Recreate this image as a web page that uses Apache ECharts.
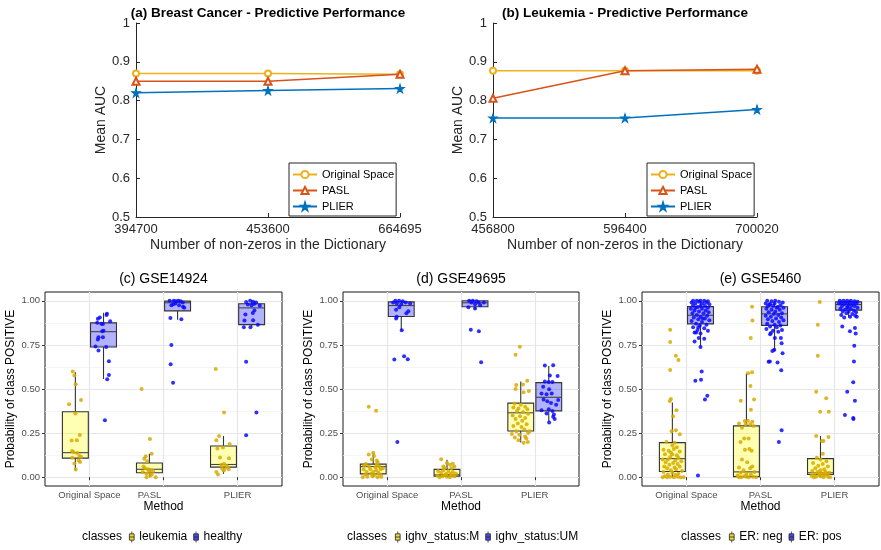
<!DOCTYPE html>
<html><head><meta charset="utf-8">
<script src="https://cdn.jsdelivr.net/npm/echarts@6/dist/echarts.min.js"></script>
<style>html,body{margin:0;padding:0;background:#fff}#c{width:881px;height:550px}</style>
</head><body><div id="c"></div>
<script>
// ---------- Data: top panels (Mean AUC) ----------
const dictA = ['394700', '453600', '664695'];
const aucA_original = [0.870, 0.870, 0.868];
const aucA_pasl = [0.850, 0.850, 0.868];
const aucA_plier = [0.820, 0.826, 0.831];
const dictB = ['456800', '596400', '700020'];
const aucB_original = [0.877, 0.877, 0.877];
const aucB_pasl = [0.806, 0.877, 0.881];
const aucB_plier = [0.755, 0.755, 0.777];

// ---------- Data: bottom panels (probability of class POSITIVE) ----------
const methods = ['Original Space', 'PASL', 'PLIER'];
const probTicks = [0, 0.25, 0.5, 0.75, 1];
const probMinorTicks = [0.125, 0.375, 0.625, 0.875];
// box stats per method: [lower whisker, Q1, median, Q3, upper whisker]
const boxC_leukemia = [[0.042,0.108,0.139,0.371,0.595],[0.0,0.025,0.045,0.080,0.133],[0.019,0.057,0.072,0.177,0.234]];
const boxC_healthy  = [[0.557,0.738,0.825,0.875,0.932],[0.893,0.943,0.989,0.998,1.0],[0.850,0.865,0.960,0.983,1.0]];
const boxD_M  = [[0.0,0.019,0.060,0.074,0.136],[0.0,0.006,0.014,0.044,0.099],[0.196,0.262,0.365,0.420,0.542]];
const boxD_UM = [[0.833,0.911,0.973,0.994,1.0],[0.950,0.966,0.989,1.0,1.0],[0.314,0.376,0.453,0.536,0.631]];
const boxE_neg = [[0.0,0.032,0.105,0.196,0.424],[0.0,0.003,0.030,0.291,0.589],[0.0,0.015,0.025,0.105,0.234]];
const boxE_pos = [[0.741,0.869,0.918,0.967,1.0],[0.713,0.861,0.926,0.966,1.0],[0.905,0.947,0.979,0.994,1.0]];

// jittered samples: [jitter offset, probability]
const jitC_leukemia_original = [[-0.035,0.599],[-0.013,0.576],[0.005,0.527],[-0.085,0.413],[0.077,0.437],[0,0.361],[-0.05,0.208],[0.02,0.209],[0.06,0.239],[-0.045,0.148],[-0.027,0.143],[0.023,0.137],[0.054,0.12],[0.077,0.116],[0.063,0.086],[-0.013,0.077],[0.005,0.044],[-0.04,0.11],[0.045,0.095]];
const jitC_leukemia_pasl = [[-0.105,0.5],[0.007,0.217],[0.03,0.133],[-0.05,0.118],[-0.07,0.105],[-0.03,0.09],[-0.08,0.061],[-0.06,0.05],[-0.02,0.045],[0.01,0.04],[0.05,0.035],[-0.007,0.029],[0.016,0.01],[-0.04,0.02],[-0.04,0.0],[0.085,0.0],[0.03,0.015],[-0.09,0.03]];
const jitC_leukemia_plier = [[-0.105,0.614],[0.007,0.367],[-0.06,0.234],[-0.096,0.209],[0.084,0.188],[-0.007,0.168],[-0.082,0.162],[-0.047,0.111],[0.074,0.108],[0.007,0.076],[-0.03,0.07],[0.053,0.057],[0.04,0.065],[-0.02,0.05],[0.01,0.042],[-0.096,0.029],[-0.074,0.015],[0.0,0.038],[0.07,0.045]];
const jitC_healthy_original = [[-0.076,0.899],[-0.05,0.905],[-0.008,0.869],[0.046,0.926],[0.04,0.92],[0.09,0.884],[-0.085,0.875],[-0.018,0.827],[0,0.83],[-0.068,0.793],[-0.076,0.781],[-0.008,0.793],[-0.108,0.741],[0.036,0.738],[-0.068,0.718],[0.073,0.658],[0.073,0.58],[0.05,0.555],[0.019,0.323],[-0.03,0.87]];
const jitC_healthy_pasl = [[-0.107,1.0],[-0.05,1.0],[-0.02,0.998],[0.01,1.0],[0.04,0.997],[0.07,0.99],[-0.084,0.975],[-0.03,0.985],[0.02,0.975],[0.074,0.966],[-0.06,0.98],[0.09,0.96],[-0.097,0.903],[0.051,0.895],[-0.084,0.749],[-0.093,0.641],[-0.061,0.536]];
const jitC_healthy_plier = [[-0.074,0.994],[-0.02,1.0],[0.02,0.995],[0.06,0.99],[-0.051,0.979],[0.038,0.983],[0.11,0.973],[0.0,0.975],[0.038,0.945],[0.016,0.931],[-0.084,0.922],[-0.097,0.888],[0.02,0.89],[0.084,0.865],[-0.105,0.85],[-0.016,0.85],[-0.074,0.654],[0.065,0.367],[-0.074,0.238]];

const jitD_M_original = [[-0.061,0.399],[0.039,0.376],[0.0,0.139],[-0.061,0.128],[0.01,0.12],[0.047,0.095],[-0.02,0.1],[0.06,0.085],[-0.12,0.067],[-0.06,0.06],[0.03,0.057],[0.08,0.06],[0.129,0.051],[-0.13,0.045],[-0.04,0.045],[0.04,0.04],[0.1,0.045],[-0.09,0.03],[0.0,0.03],[0.07,0.025],[-0.142,0.0],[-0.08,0.002],[-0.01,0.005],[0.06,0.0],[0.11,0.002],[-0.11,0.015],[0.02,0.012],[0.09,0.015],[-0.03,0.02],[0.05,0.07],[-0.1,0.075]];
const jitD_M_pasl = [[-0.079,0.101],[0.079,0.076],[0.0,0.08],[0.04,0.07],[-0.05,0.06],[0.1,0.06],[-0.03,0.05],[0.06,0.05],[-0.12,0.035],[0.02,0.035],[0.08,0.03],[-0.08,0.025],[-0.01,0.02],[0.05,0.02],[-0.13,0.01],[-0.06,0.005],[0.0,0.002],[0.04,0.0],[0.1,0.005],[-0.1,0.0],[0.12,0.02],[-0.03,0.012],[0.07,0.01],[-0.05,0.04]];
const jitD_M_plier = [[-0.012,0.739],[-0.07,0.694],[-0.061,0.523],[0.03,0.525],[0.088,0.547],[0.038,0.481],[0.11,0.489],[-0.07,0.5],[-0.084,0.418],[0.0,0.41],[0.06,0.4],[-0.1,0.395],[-0.03,0.39],[0.09,0.385],[-0.05,0.375],[0.03,0.37],[0.1,0.36],[-0.11,0.35],[-0.01,0.345],[0.06,0.335],[-0.07,0.33],[0.02,0.32],[-0.04,0.305],[0.08,0.3],[-0.1,0.29],[0.01,0.285],[0.05,0.27],[-0.06,0.26],[0.1,0.25],[-0.12,0.245],[-0.02,0.24],[0.06,0.23],[-0.08,0.225],[0.075,0.219],[0.096,0.2],[-0.03,0.21],[0.04,0.195],[0.12,0.26]];
const jitD_UM_original = [[-0.08,1.0],[-0.03,1.0],[0.02,0.998],[-0.11,0.99],[-0.06,0.985],[0.0,0.98],[0.06,0.99],[0.12,0.985],[-0.026,0.964],[-0.07,0.95],[0.096,0.941],[0.07,0.93],[-0.061,0.909],[-0.07,0.9],[0.007,0.833],[-0.094,0.667],[0.038,0.686],[0.088,0.669],[-0.053,0.2]];
const jitD_UM_pasl = [[-0.08,1.0],[-0.03,1.0],[0.02,0.998],[-0.05,0.99],[0.05,0.99],[0.12,0.99],[0.0,0.98],[-0.09,0.964],[0.0,0.956],[0.07,0.975],[-0.057,0.836],[0.052,0.827],[0.083,0.652]];
const jitD_UM_plier = [[-0.053,0.633],[0.06,0.635],[0.015,0.576],[0.12,0.574],[-0.053,0.542],[0.0,0.54],[0.05,0.54],[-0.076,0.513],[0.005,0.498],[-0.098,0.475],[-0.03,0.47],[0.04,0.475],[0.128,0.437],[-0.07,0.44],[-0.02,0.43],[0.03,0.42],[0.1,0.41],[-0.098,0.38],[0.0,0.385],[0.05,0.375],[-0.03,0.361],[0.07,0.355],[0.06,0.342],[0.08,0.33],[0.005,0.31]];

const jitE_neg_original = [[-0.03,0.836],[-0.03,0.766],[0.047,0.688],[0.082,0.664],[-0.03,0.608],[-0.02,0.443],[-0.035,0.432],[0.055,0.38],[0.01,0.346],[0.047,0.266],[-0.01,0.26],[0.1,0.243],[-0.08,0.2],[0.03,0.195],[-0.12,0.155],[-0.05,0.15],[0.02,0.16],[0.1,0.145],[-0.1,0.13],[0.0,0.13],[0.06,0.125],[-0.03,0.115],[0.08,0.11],[-0.13,0.1],[-0.06,0.1],[0.04,0.095],[0.12,0.09],[-0.09,0.085],[0.01,0.08],[0.07,0.075],[-0.04,0.07],[-0.11,0.06],[0.1,0.06],[0.03,0.055],[-0.07,0.05],[0.05,0.045],[-0.02,0.04],[0.13,0.035],[-0.12,0.03],[0.0,0.025],[0.08,0.02],[-0.06,0.015],[0.04,0.012],[-0.1,0.005],[-0.03,0.003],[0.02,0.0],[0.07,0.002],[0.11,0.0],[-0.13,0.0],[-0.07,0.0],[0.15,0.0],[0.0,0.18],[0.06,0.17],[-0.02,0.14]];
const jitE_neg_pasl = [[0.076,0.966],[0.081,0.888],[0.058,0.789],[0.076,0.595],[0.022,0.589],[0.054,0.517],[-0.077,0.433],[0.103,0.441],[0.06,0.382],[-0.023,0.319],[0.02,0.32],[0.08,0.315],[-0.1,0.305],[-0.01,0.3],[0.05,0.3],[0.1,0.29],[-0.06,0.28],[-0.03,0.219],[0.03,0.22],[-0.08,0.2],[0.04,0.16],[-0.02,0.156],[0.07,0.15],[-0.06,0.1],[0.01,0.085],[0.08,0.06],[-0.1,0.055],[0.05,0.05],[-0.04,0.04],[0.11,0.03],[-0.08,0.025],[0.0,0.02],[0.06,0.015],[-0.12,0.01],[-0.03,0.005],[0.03,0.0],[0.09,0.002],[-0.07,0.0],[0.13,0.0],[-0.1,0.0],[0.0,0.003]];
const jitE_neg_plier = [[-0.01,0.994],[-0.036,0.865],[-0.036,0.688],[-0.058,0.485],[0.077,0.447],[-0.004,0.371],[0.112,0.371],[-0.058,0.234],[0.108,0.228],[0.018,0.205],[0.04,0.205],[0.031,0.133],[-0.05,0.11],[0.0,0.1],[0.08,0.09],[-0.1,0.08],[0.03,0.075],[-0.03,0.065],[0.1,0.06],[-0.07,0.05],[0.05,0.045],[0.0,0.04],[-0.11,0.035],[0.07,0.03],[-0.04,0.03],[0.12,0.025],[0.02,0.02],[-0.08,0.018],[0.09,0.015],[-0.02,0.012],[0.05,0.01],[-0.12,0.008],[0.0,0.005],[0.1,0.003],[-0.06,0.002],[0.04,0.0],[-0.09,0.0],[0.13,0.0],[0.06,0.025],[-0.01,0.022]];
const jitE_pos_original = [[0.0,0.738],[0.05,0.785],[-0.024,0.789],[-0.06,0.821],[-0.08,0.77],[0.016,0.599],[0.007,0.553],[-0.07,0.547],[0.092,0.462],[0.06,0.441],[-0.034,0.01],[-0.1,1.0],[-0.05,1.0],[0.0,1.0],[0.05,1.0],[0.1,0.998],[-0.12,0.99],[-0.02,0.995],[0.08,0.99],[-0.07,0.985],[0.03,0.985],[0.12,0.98],[-0.1,0.975],[0.0,0.97],[0.06,0.97],[-0.04,0.965],[0.1,0.96],[-0.13,0.955],[0.02,0.955],[-0.08,0.945],[0.07,0.945],[-0.02,0.94],[0.11,0.935],[-0.11,0.93],[0.04,0.93],[-0.05,0.92],[0.09,0.915],[0.0,0.91],[-0.09,0.905],[0.06,0.9],[-0.03,0.895],[0.12,0.89],[-0.12,0.885],[0.02,0.88],[-0.06,0.87],[0.08,0.865],[-0.01,0.86],[-0.1,0.85],[0.05,0.845],[-0.04,0.835],[0.1,0.83],[-0.08,0.82],[0.0,0.815],[-0.03,0.85],[0.03,0.9],[-0.07,0.96]];
const jitE_pos_pasl = [[-0.05,0.818],[-0.06,0.81],[0.004,0.789],[0.085,0.789],[0.095,0.76],[-0.005,0.722],[-0.03,0.715],[0.108,0.703],[-0.064,0.656],[-0.08,0.655],[0.04,0.65],[0.09,0.607],[0.095,0.266],[0.058,0.2],[-0.1,1.0],[-0.04,0.998],[0.01,1.0],[0.06,0.995],[0.11,0.99],[-0.12,0.985],[-0.06,0.98],[0.0,0.985],[0.08,0.975],[-0.09,0.97],[-0.02,0.97],[0.04,0.965],[0.12,0.96],[-0.11,0.955],[-0.04,0.95],[0.07,0.95],[0.01,0.94],[-0.08,0.935],[0.1,0.93],[-0.01,0.925],[0.05,0.92],[-0.12,0.915],[-0.05,0.91],[0.09,0.905],[0.02,0.9],[-0.09,0.895],[0.12,0.89],[-0.03,0.885],[0.06,0.88],[-0.1,0.87],[0.0,0.865],[0.08,0.86],[-0.06,0.855],[0.03,0.85],[-0.11,0.84],[0.1,0.835],[-0.02,0.83],[0.05,0.825],[-0.07,0.98],[0.03,0.96]];
const jitE_pos_plier = [[-0.086,0.855],[0.018,0.827],[0.085,0.846],[0.095,0.814],[0.076,0.745],[0.072,0.656],[0.062,0.538],[-0.019,0.485],[0.085,0.433],[-0.05,0.352],[0.062,0.336],[0.065,0.33],[-0.12,1.0],[-0.07,1.0],[-0.02,1.0],[0.03,1.0],[0.08,0.998],[0.12,0.995],[-0.1,0.99],[-0.04,0.99],[0.01,0.992],[0.06,0.988],[-0.13,0.985],[0.1,0.985],[-0.06,0.98],[0.0,0.978],[0.04,0.975],[-0.09,0.97],[0.08,0.97],[-0.02,0.965],[0.12,0.96],[-0.11,0.955],[0.03,0.955],[-0.05,0.95],[0.07,0.945],[-0.08,0.94],[0.0,0.94],[0.1,0.935],[-0.03,0.93],[0.05,0.925],[-0.1,0.92],[0.09,0.915],[0.02,0.91],[-0.06,0.905],[0.11,0.91],[-0.01,0.96]];

// ---------- Styling / layout ----------
const FONT = 'Liberation Sans, Arial, Helvetica, sans-serif';
const C_ORIG = '#EDB120', C_PASL = '#D95319', C_PLIER = '#0072BD';
const BOX_FILL = ['rgba(255,255,0,0.30)', 'rgba(0,0,255,0.30)'];
const PT_COLOR = ['#d6ab00', '#0a0aff'];
const LEG_FILL = ['#f2dc3c', '#4a4af0'];
const DODGE = 0.19, BOX_W = 0.35;
const STAR = 'path://M50,0L61,35L98,35L68,57L79,91L50,70L21,91L32,57L2,35L39,35Z';
const BOXICON = 'path://M3,0V3M0,3H6V11H0ZM0,7H6M3,11V14';

const panels = [
  { title: '(c) GSE14924', classes: ['leukemia', 'healthy'], boxes: [boxC_leukemia, boxC_healthy],
    pts: [[jitC_leukemia_original, jitC_leukemia_pasl, jitC_leukemia_plier], [jitC_healthy_original, jitC_healthy_pasl, jitC_healthy_plier]],
    left: 45, width: 237, cx: 163.5, classesX: 82, legendX: 129, shiftMid: true },
  { title: '(d) GSE49695', classes: ['ighv_status:M', 'ighv_status:UM'], boxes: [boxD_M, boxD_UM],
    pts: [[jitD_M_original, jitD_M_pasl, jitD_M_plier], [jitD_UM_original, jitD_UM_pasl, jitD_UM_plier]],
    left: 343, width: 236, cx: 461, classesX: 347, legendX: 395, shiftMid: false },
  { title: '(e) GSE5460', classes: ['ER: neg', 'ER: pos'], boxes: [boxE_neg, boxE_pos],
    pts: [[jitE_neg_original, jitE_neg_pasl, jitE_neg_plier], [jitE_pos_original, jitE_pos_pasl, jitE_pos_plier]],
    left: 642, width: 237, cx: 760.5, classesX: 681, legendX: 729, shiftMid: false }
];

function makeBox(fill) {
  return function (params, api) {
    const x = api.value(0);
    const w = api.size([BOX_W, 0])[0];
    const p = [1, 2, 3, 4, 5].map(d => api.coord([x, api.value(d)]));
    const cx = p[0][0];
    const st = '#333';
    return { type: 'group', children: [
      { type: 'line', shape: { x1: cx, y1: p[4][1], x2: cx, y2: p[3][1] }, style: { stroke: st, lineWidth: 1.1 } },
      { type: 'line', shape: { x1: cx, y1: p[1][1], x2: cx, y2: p[0][1] }, style: { stroke: st, lineWidth: 1.1 } },
      { type: 'rect', shape: { x: cx - w / 2, y: p[3][1], width: w, height: p[1][1] - p[3][1] }, style: { fill: fill, stroke: st, lineWidth: 1.1 } },
      { type: 'line', shape: { x1: cx - w / 2, y1: p[2][1], x2: cx + w / 2, y2: p[2][1] }, style: { stroke: '#444', lineWidth: 1.1 } }
    ] };
  };
}

const grid = [
  { left: 136, top: 23, width: 264, height: 194, show: false },
  { left: 493, top: 23, width: 264, height: 194, show: false }
];
const xAxis = [], yAxis = [], series = [], legend = [], graphic = [];

function topAxes(cats) {
  xAxis.push({ type: 'category', gridIndex: xAxis.length, data: cats, boundaryGap: false,
    axisLine: { lineStyle: { color: '#262626', width: 1 } },
    axisTick: { inside: true, length: 4, lineStyle: { color: '#262626' } },
    axisLabel: { fontSize: 13, color: '#262626', margin: 6, fontFamily: FONT },
    name: 'Number of non-zeros in the Dictionary', nameLocation: 'middle', nameGap: 21,
    nameTextStyle: { fontSize: 14, color: '#262626', fontFamily: FONT } });
  yAxis.push({ type: 'value', gridIndex: yAxis.length, min: 0.5, max: 1, interval: 0.1,
    axisLine: { show: true, lineStyle: { color: '#262626', width: 1 } },
    axisTick: { show: true, inside: true, length: 4, lineStyle: { color: '#262626' } },
    axisLabel: { fontSize: 13, color: '#262626', margin: 6, fontFamily: FONT },
    splitLine: { show: false },
    name: 'Mean AUC', nameLocation: 'middle', nameGap: 27,
    nameTextStyle: { fontSize: 14, color: '#262626', fontFamily: FONT } });
}
topAxes(dictA);
topAxes(dictB);

[[aucA_original, aucA_pasl, aucA_plier], [aucB_original, aucB_pasl, aucB_plier]].forEach((set, g) => {
  const defs = [
    { name: 'Original Space', color: C_ORIG, symbol: 'emptyCircle', size: 6 },
    { name: 'PASL', color: C_PASL, symbol: 'emptyTriangle', size: 7 },
    { name: 'PLIER', color: C_PLIER, symbol: STAR, size: 8.5 }
  ];
  defs.forEach((d, i) => {
    series.push({ type: 'line', name: d.name, xAxisIndex: g, yAxisIndex: g, data: set[i],
      symbol: d.symbol, symbolSize: d.size, showAllSymbol: true,
      lineStyle: { color: d.color, width: 1.5 }, itemStyle: { color: d.color, borderColor: d.color, borderWidth: 1.1 },
      z: 3 + i, silent: true });
  });
  legend.push({ orient: 'vertical', left: g === 0 ? 289 : 647, top: 163,
    padding: [6, 2, 4, 3], itemGap: 5, itemWidth: 24, itemHeight: 9,
    borderColor: '#262626', borderWidth: 1, backgroundColor: '#fff',
    data: ['Original Space', 'PASL', 'PLIER'],
    textStyle: { fontSize: 11, color: '#000', fontFamily: FONT }, selectedMode: false });
});

graphic.push({ type: 'text', x: 268, y: 13, style: { text: '(a) Breast Cancer - Predictive Performance', font: 'bold 13.5px ' + FONT, fill: '#000', textAlign: 'center', textVerticalAlign: 'middle' } });
graphic.push({ type: 'text', x: 625, y: 13, style: { text: '(b) Leukemia - Predictive Performance', font: 'bold 13.5px ' + FONT, fill: '#000', textAlign: 'center', textVerticalAlign: 'middle' } });

panels.forEach((p, k) => {
  const gi = 2 + k;
  grid.push({ left: p.left, top: 292, width: p.width, height: 194, show: true, borderColor: '#1a1a1a', borderWidth: 1, backgroundColor: '#fff' });
  xAxis.push({ type: 'value', gridIndex: gi, min: 0.4, max: 3.6,
    axisLine: { show: false },
    axisTick: { show: true, length: 3, customValues: [1, 2, 3], lineStyle: { color: '#333' } },
    axisLabel: { customValues: [1, 2, 3], fontSize: 9.5, color: '#4d4d4d', margin: 4, fontFamily: FONT,
      formatter: v => { const t = methods[Math.round(v) - 1]; return (p.shiftMid && Math.round(v) === 2) ? '{s|' + t + '}' : t; },
      rich: { s: { fontSize: 9.5, color: '#4d4d4d', fontFamily: FONT, padding: [0, 28, 0, 0] } } },
    splitLine: { show: true, lineStyle: { color: '#e6e6e6', width: 1.2 } },
    name: 'Method', nameLocation: 'middle', nameGap: 15,
    nameTextStyle: { fontSize: 12, color: '#000', fontFamily: FONT } });
  yAxis.push({ type: 'value', gridIndex: gi, min: -0.05, max: 1.05, position: 'left',
    axisLine: { show: false },
    axisTick: { show: true, length: 3, customValues: probTicks, lineStyle: { color: '#333' } },
    axisLabel: { customValues: probTicks, fontSize: 9.5, color: '#4d4d4d', margin: 5, fontFamily: FONT, formatter: v => v.toFixed(2) },
    splitLine: { show: true, lineStyle: { color: '#e6e6e6', width: 1.2 } },
    name: 'Probability of class POSITIVE', nameLocation: 'middle', nameGap: 28,
    nameTextStyle: { fontSize: 12, color: '#000', fontFamily: FONT } });
  yAxis.push({ type: 'value', gridIndex: gi, min: -0.05, max: 1.05, position: 'left',
    axisLine: { show: false },
    axisTick: { show: false, customValues: probMinorTicks },
    axisLabel: { show: false, customValues: probMinorTicks },
    splitLine: { show: true, lineStyle: { color: '#f1f1f1', width: 0.7 } } });
  const yi = yAxis.length - 2;
  p.classes.forEach((cls, c) => {
    const dodge = c === 0 ? -DODGE : DODGE;
    series.push({ type: 'custom', name: cls, xAxisIndex: gi, yAxisIndex: yi, renderItem: makeBox(BOX_FILL[c]),
      encode: { x: 0, y: [1, 2, 3, 4, 5] }, itemStyle: { color: LEG_FILL[c] },
      data: p.boxes[c].map((s, i) => [i + 1 + dodge].concat(s)), z: 2, silent: true });
  });
  p.classes.forEach((cls, c) => {
    const dodge = c === 0 ? -DODGE : DODGE;
    const data = [];
    p.pts[c].forEach((arr, i) => arr.forEach(([dx, y]) => data.push([i + 1 + dodge + dx, y])));
    series.push({ type: 'scatter', name: cls, xAxisIndex: gi, yAxisIndex: yi, data: data,
      symbolSize: 4, itemStyle: { color: PT_COLOR[c], opacity: 0.85 }, z: 3, silent: true });
  });
  graphic.push({ type: 'text', x: p.cx, y: 279, style: { text: p.title, font: '14px ' + FONT, fill: '#000', textAlign: 'center', textVerticalAlign: 'middle' } });
  graphic.push({ type: 'text', x: p.classesX, y: 537, style: { text: 'classes', font: '12px ' + FONT, fill: '#000', textAlign: 'left', textVerticalAlign: 'middle' } });
  legend.push({ orient: 'horizontal', left: p.legendX, top: 531, padding: 0, itemGap: 6, itemWidth: 5, itemHeight: 11,
    selectedMode: false,
    data: p.classes.map((cls, c) => ({ name: cls, icon: BOXICON, itemStyle: { color: LEG_FILL[c], borderColor: '#222', borderWidth: 0.8 } })),
    textStyle: { fontSize: 12, color: '#000', fontFamily: FONT } });
});

const chart = echarts.init(document.getElementById('c'), null, { renderer: 'canvas' });
chart.setOption({
  animation: false,
  backgroundColor: '#fff',
  textStyle: { fontFamily: FONT },
  grid, xAxis, yAxis, series, legend, graphic
});
</script></body></html>
